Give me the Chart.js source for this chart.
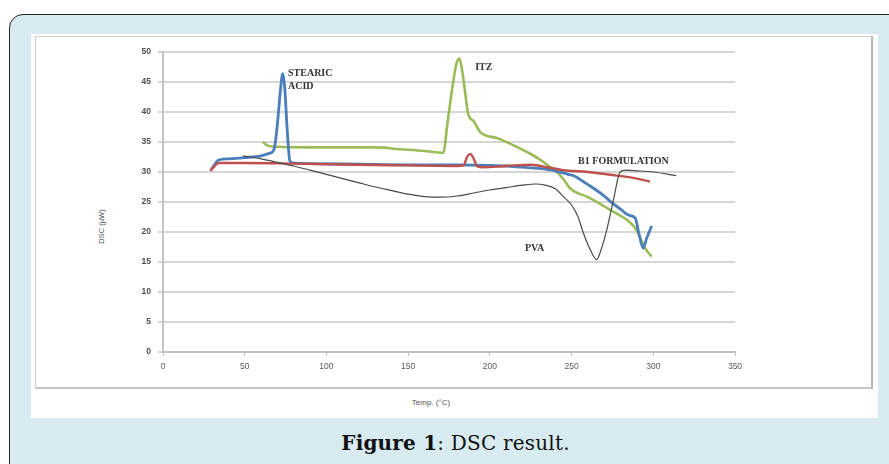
<!DOCTYPE html>
<html>
<head>
<meta charset="utf-8">
<script src="https://cdn.jsdelivr.net/npm/chart.js@4.4.1/dist/chart.umd.min.js"></script>
<style>
  html, body { margin: 0; padding: 0; background: #ffffff; width: 889px; height: 464px; overflow: hidden; }
  .frame { position: absolute; left: 9px; top: 14px; width: 920px; height: 480px; border: 1.5px solid #222; border-radius: 14px; background: #d8ebf0; box-sizing: border-box; }
  .white { position: absolute; left: 31px; top: 34px; width: 847px; height: 384px; background: #ffffff; }
  .inner { position: absolute; left: 35px; top: 36px; width: 838px; height: 353px; border-top: 1px solid #cfcfcf; border-left: 1px solid #cfcfcf; border-right: 2px solid #b5b5b5; border-bottom: 2px solid #c4c4c4; box-sizing: border-box; }
  #wrap { position: absolute; left: 0; top: 0; width: 889px; height: 464px; }
  .xtitle { position: absolute; left: 380px; width: 102px; top: 398px; text-align: center; font: 8px "Liberation Sans", Arial, sans-serif; color: #555; }
  .ytitle { position: absolute; left: 78px; top: 222px; width: 46px; text-align: center; font: 7.5px "Liberation Sans", Arial, sans-serif; color: #555; transform: rotate(-90deg); transform-origin: 50% 50%; }
  .caption { position: absolute; left: 300px; width: 311px; top: 431px; text-align: center; font: 20px "DejaVu Serif", serif; color: #111; white-space: nowrap; letter-spacing: 0.2px; }
  .caption b { font-weight: bold; }
</style>
</head>
<body>
<div class="frame"></div>
<div class="white"></div>
<div class="inner"></div>
<div class="xtitle">Temp. (°C)</div>
<div class="ytitle">DSC (µW)</div>
<div class="caption"><b>Figure 1</b>: DSC result.</div>
<div id="wrap"><canvas id="c" width="889" height="464"></canvas></div>
<script>
// ---- Data ----
const xTicks = [0, 50, 100, 150, 200, 250, 300, 350];
const yTicks = [0, 5, 10, 15, 20, 25, 30, 35, 40, 45, 50];

const stearicTemp = [29, 31, 34, 40, 50, 60, 65, 68, 70, 72, 73.3, 74.5, 76, 77.5, 79, 90, 120, 150, 180, 200, 210, 220, 230, 240, 248, 252, 256, 260, 265, 270, 275, 280, 285, 289, 291, 293.8, 296, 299];
const stearicDSC  = [30.2, 31, 32, 32.2, 32.4, 32.7, 33.1, 33.8, 38, 44, 46.4, 44, 37, 32, 31.5, 31.4, 31.3, 31.2, 31.2, 31.1, 31, 30.8, 30.6, 30.2, 29.6, 29.3, 28.6, 27.9, 27.0, 26, 24.8, 23.8, 22.8, 22.3, 20, 17.3, 19, 21];

const b1Temp = [29, 31, 34, 50, 80, 120, 150, 180, 184, 186, 188, 190, 192, 195, 205, 215, 225, 235, 245, 260, 275, 290, 298];
const b1DSC  = [30.2, 30.8, 31.5, 31.5, 31.4, 31.2, 31.1, 31, 31.1, 32.5, 33, 32.3, 31, 30.8, 30.9, 31.1, 31.2, 30.8, 30.3, 30, 29.5, 28.9, 28.4];

const itzTemp = [61, 64, 70, 90, 110, 130, 145, 160, 171.5, 174, 177, 179.5, 181.4, 183, 185, 186.7, 190, 194, 205, 216.5, 225, 231, 236, 241, 245, 249, 260, 268, 276, 284, 289, 292, 295, 299];
const itzDSC  = [35, 34.4, 34.2, 34.1, 34.1, 34.1, 33.8, 33.5, 33.2, 38, 44, 48, 48.9, 47, 43, 39.7, 38.5, 36.7, 35.6, 34.2, 33, 32, 31, 30, 28.8, 27.3, 25.8, 24.6, 23.3, 22, 20.6, 19, 17.3, 15.9];

const pvaTemp = [49, 60, 70, 80, 90, 100, 110, 120, 130, 140, 150, 160, 170, 180, 190, 200, 210, 220, 228, 234, 240, 245, 250, 254, 257, 261, 265.4, 268, 271.5, 275.6, 279.7, 283, 290, 300, 314];
const pvaDSC  = [32.7, 32.2, 31.6, 31.0, 30.3, 29.6, 28.9, 28.2, 27.5, 26.9, 26.3, 25.9, 25.8, 26.0, 26.5, 27.0, 27.4, 27.8, 28.0, 27.8, 27.2, 25.9, 24.5, 22.5, 20, 17.3, 15.4, 17, 20.3, 25.3, 30, 30.3, 30.2, 30.0, 29.4];

const seriesNames = ["STEARIC ACID", "B1 FORMULATION", "ITZ", "PVA"];

// Curve labels drawn in the plot (text + anchor in data units)
const labelTexts = ["STEARIC", "ACID", "ITZ", "B1 FORMULATION", "PVA"];
const labelTemp  = [76.5, 76.5, 191, 254, 221.5];
const labelDSC   = [46.5, 44.3, 47.5, 31.7, 17.3];

function pts(xs, ys) { return xs.map((x, i) => ({ x: x, y: ys[i] })); }

const curveLabels = {
  id: 'curveLabels',
  afterDatasetsDraw(chart) {
    const ctx = chart.ctx, xs = chart.scales.x, ys = chart.scales.y;
    ctx.save();
    ctx.font = 'bold 10px "Liberation Serif", "Times New Roman", serif';
    ctx.fillStyle = '#333';
    ctx.textAlign = 'left';
    ctx.textBaseline = 'middle';
    labelTexts.forEach((t, i) => {
      ctx.fillText(t, xs.getPixelForValue(labelTemp[i]), ys.getPixelForValue(labelDSC[i]));
    });
    ctx.restore();
  }
};

const common = { showLine: true, pointRadius: 0, pointHoverRadius: 0, fill: false, cubicInterpolationMode: 'monotone' };

new Chart(document.getElementById('c'), {
  type: 'scatter',
  data: {
    datasets: [
      Object.assign({ label: seriesNames[3], data: pts(pvaTemp, pvaDSC), borderColor: '#4a4a4a', borderWidth: 1.2 }, common),
      Object.assign({ label: seriesNames[1], data: pts(b1Temp, b1DSC), borderColor: '#c0504d', borderWidth: 2.4 }, common),
      Object.assign({ label: seriesNames[0], data: pts(stearicTemp, stearicDSC), borderColor: '#4a7ebb', borderWidth: 2.8 }, common),
      Object.assign({ label: seriesNames[2], data: pts(itzTemp, itzDSC), borderColor: '#9bbb59', borderWidth: 2.6 }, common)
    ]
  },
  options: {
    responsive: false,
    animation: false,
    events: [],
    layout: { padding: { left: 100, top: 52, right: 154, bottom: 82 } },
    plugins: { legend: { display: false }, tooltip: { enabled: false }, title: { display: false } },
    scales: {
      x: {
        type: 'linear', min: 0, max: 350,
        afterBuildTicks(s) { s.ticks = xTicks.map(v => ({ value: v })); },
        afterFit(s) { s.height = 30; },
        grid: { drawOnChartArea: false, drawTicks: true, tickLength: 4, color: '#bfbfbf', lineWidth: 1 },
        border: { display: true, color: '#bfbfbf', width: 2 },
        ticks: { color: '#5a5a5a', font: { family: '"Liberation Sans", Arial, sans-serif', size: 8.5 }, padding: 6, maxRotation: 0 }
      },
      y: {
        type: 'linear', min: 0, max: 50,
        afterBuildTicks(s) { s.ticks = yTicks.map(v => ({ value: v })); },
        afterFit(s) { s.width = 63; },
        grid: { drawOnChartArea: true, drawTicks: true, tickLength: 5, color: '#d6d6d6', lineWidth: 2 },
        border: { display: true, color: '#c4c4c4', width: 2 },
        ticks: { color: '#4f4f4f', font: { family: '"Liberation Sans", Arial, sans-serif', size: 8.5, weight: 'bold' }, padding: 7 }
      }
    }
  },
  plugins: [curveLabels]
});
</script>
</body>
</html>
